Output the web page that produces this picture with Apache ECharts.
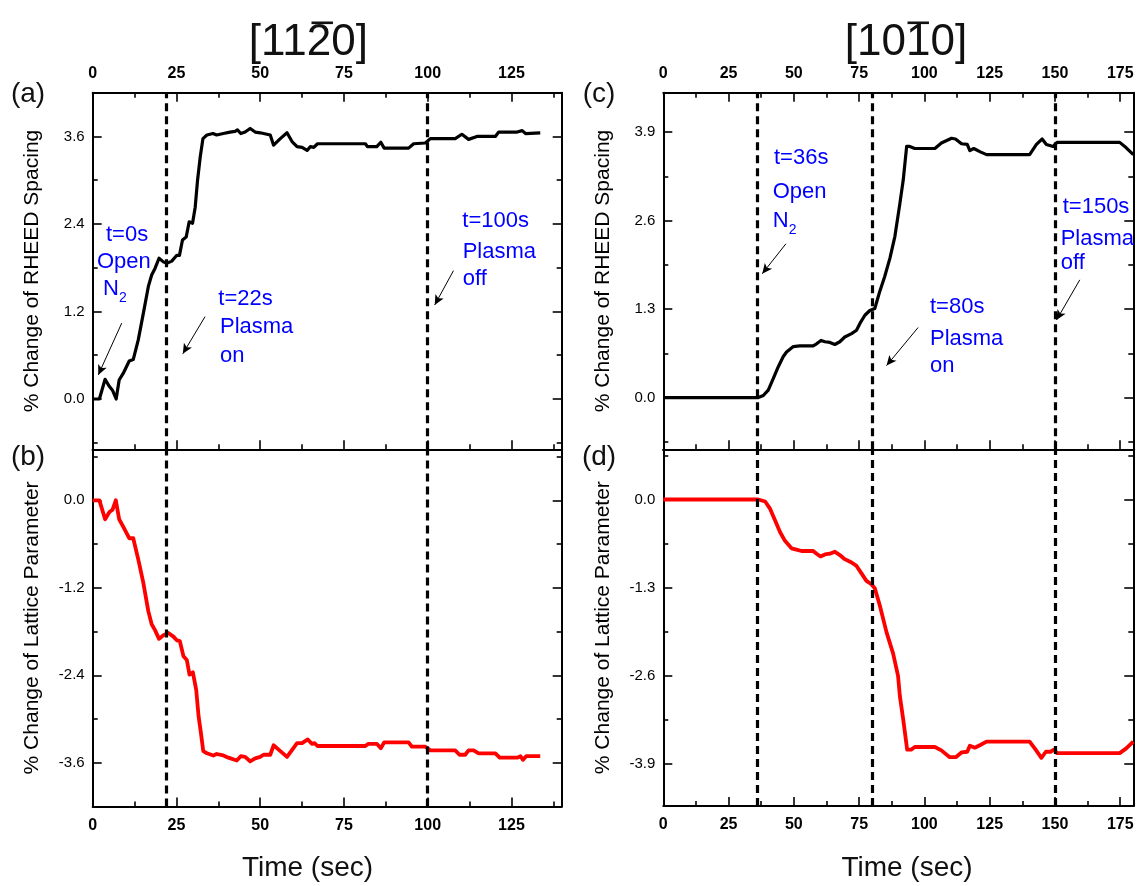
<!DOCTYPE html>
<html>
<head>
<meta charset="utf-8">
<script src="https://cdn.jsdelivr.net/npm/echarts@6/dist/echarts.min.js"></script>
<style>
  html, body { margin: 0; padding: 0; background: #fff; }
  #chart { width: 1138px; height: 886px; }
</style>
</head>
<body>
<div id="chart"></div>
<script>
// ---------------- data ----------------
// [11-20] azimuth: RHEED spacing change (a) and lattice parameter change (b)
const timeA = [0, 2, 3.7, 5, 5.9, 7, 7.9, 9.1, 10.9, 12.1, 13.6, 15.1, 16.6, 17.6, 18.6, 19.8, 21.1, 22.1, 23.6, 25.1,
  25.9, 26.8, 27.9, 28.8, 29.8, 30.6, 31.3, 32.1, 32.9, 34.1, 35.9, 37, 39, 41, 42.5, 43.2, 44.2, 45.5, 47, 48.5,
  50, 52, 53, 54, 56, 58, 59.5, 61, 62.5, 64, 65, 66, 67.1, 81.4, 82, 84.8, 86, 87, 94.3, 95.8,
  99.3, 100.8, 108.2, 110.2, 112.2, 114.7, 120.2, 121.2, 126.7, 128.2, 129.2, 133.6];
const rheedA = [0, 0, 0.27, 0.17, 0.12, 0, 0.26, 0.35, 0.52, 0.54, 0.81, 1.17, 1.54, 1.70, 1.79, 1.93, 1.88, 1.86, 1.89, 1.97,
  1.97, 2.18, 2.22, 2.43, 2.41, 2.63, 3.0, 3.32, 3.57, 3.62, 3.64, 3.62, 3.64, 3.66, 3.67, 3.69, 3.64, 3.66, 3.71, 3.66,
  3.65, 3.63, 3.62, 3.48, 3.57, 3.65, 3.53, 3.46, 3.45, 3.41, 3.46, 3.45, 3.50, 3.50, 3.46, 3.46, 3.52, 3.44, 3.44, 3.50,
  3.51, 3.57, 3.57, 3.63, 3.56, 3.60, 3.60, 3.66, 3.66, 3.68, 3.64, 3.65];

const timeB = [0, 2, 3.7, 5, 5.9, 6.9, 7.9, 9.1, 10.9, 12.1, 13.6, 15.1, 16.6, 17.6, 18.6, 19.8, 21.1, 22.6, 24.1, 25.1,
  26, 27.1, 28.1, 28.9, 29.9, 30.9, 31.6, 32.3, 33, 34.1, 36, 37, 39, 40.5, 43, 44.2, 45.5, 47, 48.5, 50,
  51, 53, 54, 55.5, 58, 61, 62.5, 64.2, 65.4, 66.2, 67.1, 81.4, 82.3, 84.8, 86, 87, 94.3, 95.3, 99.3, 100.8,
  108.2, 109.5, 111.2, 112.2, 113.7, 115.2, 120.2, 121.5, 126.7, 127.7, 128.4, 129.4, 133.6];
const latticeB = [0, 0, -0.26, -0.16, -0.13, 0, -0.26, -0.36, -0.52, -0.52, -0.81, -1.13, -1.52, -1.70, -1.78, -1.90, -1.85, -1.82, -1.87, -1.92,
  -1.93, -2.14, -2.19, -2.39, -2.36, -2.60, -2.96, -3.19, -3.44, -3.47, -3.50, -3.48, -3.50, -3.53, -3.57, -3.51, -3.52, -3.58, -3.54, -3.52,
  -3.49, -3.49, -3.36, -3.42, -3.52, -3.33, -3.33, -3.28, -3.34, -3.33, -3.37, -3.37, -3.34, -3.34, -3.40, -3.32, -3.32, -3.38, -3.38, -3.43,
  -3.43, -3.49, -3.49, -3.43, -3.43, -3.47, -3.47, -3.53, -3.53, -3.51, -3.56, -3.51, -3.51];

// [10-10] azimuth: RHEED spacing change (c) and lattice parameter change (d)
const timeC = [0, 36.4, 38.3, 40.2, 42.1, 44, 45.9, 47.2, 49.8, 52.3, 57.4, 58.7, 60.4, 61.9, 63.8, 65.7, 67.6, 69.5, 72.1, 74,
  75.6, 77.2, 79.1, 81, 82.9, 84.8, 86.8, 88.7, 90.6, 91.9, 93.2, 94.4, 96.3, 104, 106.5, 110.4, 111.9, 114.2, 116.4, 117.4,
  118.9, 121.4, 123.8, 140.3, 142.9, 145.1, 146.7, 149.3, 150.8, 174.8, 177.3, 180];
const rheedC = [0, 0, 0.03, 0.11, 0.28, 0.45, 0.60, 0.67, 0.75, 0.76, 0.76, 0.79, 0.84, 0.82, 0.81, 0.78, 0.82, 0.89, 0.94, 0.99,
  1.11, 1.21, 1.28, 1.31, 1.56, 1.78, 2.05, 2.37, 2.85, 3.20, 3.69, 3.69, 3.66, 3.66, 3.74, 3.81, 3.80, 3.73, 3.72, 3.63,
  3.66, 3.61, 3.57, 3.57, 3.72, 3.80, 3.72, 3.69, 3.75, 3.75, 3.67, 3.57];

const timeD = [0, 36.4, 39, 40.8, 42.7, 44.7, 46.6, 49.1, 51, 52.9, 57.4, 58.7, 60.2, 61.9, 63.8, 65.7, 67.6, 69.5, 72.1, 74,
  75.9, 77.8, 79.7, 81, 82.9, 85.5, 88, 89.9, 90.6, 91.9, 93.4, 94.9, 96.3, 104, 106.5, 109.7, 112, 114.2, 116.4, 117.4,
  119.3, 121.4, 123.8, 140.3, 142.6, 144.8, 146.5, 148.3, 149.6, 150.8, 174.8, 177.3, 180];
const latticeD = [0, 0, -0.03, -0.13, -0.30, -0.48, -0.61, -0.72, -0.74, -0.76, -0.76, -0.80, -0.84, -0.81, -0.80, -0.77, -0.82, -0.88, -0.93, -0.98,
  -1.09, -1.20, -1.25, -1.31, -1.56, -1.96, -2.27, -2.6, -2.9, -3.25, -3.69, -3.69, -3.65, -3.65, -3.70, -3.80, -3.80, -3.73, -3.72, -3.63,
  -3.66, -3.62, -3.57, -3.57, -3.69, -3.81, -3.72, -3.72, -3.69, -3.74, -3.74, -3.67, -3.57];

// event times (s): N2 open / plasma on / plasma off
const eventsLeft = [22, 100];
const eventsRight = [36, 80, 150];

// tick labels
const xTicksLeft = [0, 25, 50, 75, 100, 125];
const xTicksRight = [0, 25, 50, 75, 100, 125, 150, 175];
const yTicksA = [0, 1.2, 2.4, 3.6];
const yTicksB = [-3.6, -2.4, -1.2, 0];
const yTicksC = [0, 1.3, 2.6, 3.9];
const yTicksD = [-3.9, -2.6, -1.3, 0];

// annotation arrows: [tail t, tail value, head t, head value]
const arrowsA = [[8.66, 1.04, 1.67, 0.33], [33.55, 1.13, 26.9, 0.62], [107.7, 1.76, 102.1, 1.29]];
const arrowsC = [[46.96, 2.26, 37.9, 1.82], [97.6, 1.03, 85.5, 0.47], [159.5, 1.73, 150.6, 1.14]];

// ---------------- layout ----------------
const FONT = '"Liberation Sans", Arial, Helvetica, sans-serif';
const BLUE = '#0000ff';

const panels = [
  { left: 92.7, top: 92.7, width: 469, height: 356.6, xMax: 140, yMin: -0.69, yMax: 4.2,
    xTicks: xTicksLeft, yTicks: yTicksA, labelSide: 'top', topTicks: true, bottomTicks: true,
    yName: '% Change of RHEED Spacing', t: timeA, v: rheedA, color: '#000000', lw: 3.2,
    events: eventsLeft, arrows: arrowsA },
  { left: 92.7, top: 449.3, width: 469, height: 357.2, xMax: 140, yMin: -4.2, yMax: 0.7,
    xTicks: xTicksLeft, yTicks: yTicksB, labelSide: 'bottom', topTicks: false, bottomTicks: true,
    yName: '% Change of Lattice Parameter', t: timeB, v: latticeB, color: '#ff0000', lw: 3.8,
    events: eventsLeft, arrows: [] },
  { left: 663.3, top: 92.7, width: 470, height: 356.6, xMax: 180, yMin: -0.76, yMax: 4.48,
    xTicks: xTicksRight, yTicks: yTicksC, labelSide: 'top', topTicks: true, bottomTicks: true,
    yName: '% Change of RHEED Spacing', t: timeC, v: rheedC, color: '#000000', lw: 3.2,
    events: eventsRight, arrows: arrowsC },
  { left: 663.3, top: 449.3, width: 470, height: 356.7, xMax: 180, yMin: -4.52, yMax: 0.74,
    xTicks: xTicksRight, yTicks: yTicksD, labelSide: 'bottom', topTicks: false, bottomTicks: true,
    yName: '% Change of Lattice Parameter', t: timeD, v: latticeD, color: '#ff0000', lw: 3.8,
    events: eventsRight, arrows: [] }
];

// ticks halfway between labelled ticks, kept inside [min, max]
function halfSteps(ticks, min, max) {
  const step = ticks[1] - ticks[0];
  const out = [];
  for (let v = ticks[0] - step / 2; v >= min - 1e-9; v -= step) out.push(+v.toFixed(4));
  for (let i = 0; i < ticks.length; i++) {
    const v = ticks[i] + step / 2;
    if (v <= max + 1e-9) out.push(+v.toFixed(4));
  }
  return out.filter(v => v >= min - 1e-9 && v <= max + 1e-9);
}

function valueAxis(gi, min, max, pos, ticks, len, showLine, labels, kind) {
  const ax = {
    type: 'value', gridIndex: gi, min: min, max: max, position: pos,
    axisLine: { show: showLine, onZero: false, lineStyle: { color: '#000', width: 2 } },
    axisTick: { show: ticks.length > 0, inside: true, length: len, lineStyle: { color: '#000', width: 1.6 } },
    axisLabel: { show: false },
    splitLine: { show: false },
    minorTick: { show: false },
    axisPointer: { show: false }
  };
  if (ticks.length) ax.axisTick.customValues = ticks;
  if (labels) {
    if (kind === 'x') {
      ax.axisLabel = { show: true, customValues: labels, margin: 11, color: '#000',
        fontFamily: FONT, fontSize: 16, fontWeight: 'bold', formatter: v => String(v) };
    } else {
      ax.axisLabel = { show: true, customValues: labels, margin: 8, color: '#000',
        fontFamily: FONT, fontSize: 15, formatter: v => Number(v).toFixed(1) };
    }
  }
  return ax;
}

const grids = [], xAxes = [], yAxes = [], series = [];

panels.forEach((p, gi) => {
  grids.push({ left: p.left, top: p.top, width: p.width, height: p.height, show: false,
    containLabel: false, outerBoundsMode: 'none' });
  const xMinor = halfSteps(p.xTicks, 0, p.xMax);
  const yMinor = halfSteps(p.yTicks, p.yMin, p.yMax);

  const xi = xAxes.length;
  xAxes.push(valueAxis(gi, 0, p.xMax, 'bottom', p.bottomTicks ? p.xTicks : [], 9, true,
    p.labelSide === 'bottom' ? p.xTicks : null, 'x'));
  xAxes.push(valueAxis(gi, 0, p.xMax, 'bottom', p.bottomTicks ? xMinor : [], 5, false, null));
  xAxes.push(valueAxis(gi, 0, p.xMax, 'top', p.topTicks ? p.xTicks : [], 9, true,
    p.labelSide === 'top' ? p.xTicks : null, 'x'));
  xAxes.push(valueAxis(gi, 0, p.xMax, 'top', p.topTicks ? xMinor : [], 5, false, null));

  const yi = yAxes.length;
  const yMain = valueAxis(gi, p.yMin, p.yMax, 'left', p.yTicks, 9, true, p.yTicks, 'y');
  yMain.name = p.yName;
  yMain.nameLocation = 'middle';
  yMain.nameGap = 50;
  yMain.nameRotate = 90;
  yMain.nameTextStyle = { fontFamily: FONT, fontSize: 21, color: '#000' };
  yAxes.push(yMain);
  yAxes.push(valueAxis(gi, p.yMin, p.yMax, 'left', yMinor, 5, false, null));
  yAxes.push(valueAxis(gi, p.yMin, p.yMax, 'right', p.yTicks, 9, true, null));
  yAxes.push(valueAxis(gi, p.yMin, p.yMax, 'right', yMinor, 5, false, null));

  series.push({
    type: 'line', xAxisIndex: xi, yAxisIndex: yi,
    data: p.t.map((t, i) => [t, p.v[i]]),
    showSymbol: false, symbol: 'none', animation: false, silent: true, z: 3,
    lineStyle: { color: p.color, width: p.lw, join: 'round' },
    markLine: {
      silent: true, animation: false, symbol: ['none', 'none'], label: { show: false },
      lineStyle: { color: '#000', width: 3.2, type: [8, 5] },
      emphasis: { disabled: true },
      data: p.events.map(x => ({ xAxis: x }))
    }
  });

  if (p.arrows.length) {
    series.push({
      type: 'line', xAxisIndex: xi, yAxisIndex: yi, data: [], silent: true, animation: false, z: 4,
      markLine: {
        silent: true, animation: false, symbol: ['none', 'arrow'], symbolSize: [7, 10],
        label: { show: false }, emphasis: { disabled: true },
        lineStyle: { color: '#000', width: 1, type: 'solid' },
        data: p.arrows.map(a => [{ coord: [a[0], a[1]] }, { coord: [a[2], a[3]] }])
      }
    });
  }
});

// ---------------- text ----------------
const MID = 0.3465; // canvas 'middle' sits this many em above the alphabetic baseline
function txt(x, baseline, text, size, color, align, extra) {
  return Object.assign({
    type: 'text', x: x, y: baseline - MID * size, silent: true, z: 10,
    style: { text: text, fontFamily: FONT, fontSize: size, fill: color,
      align: align || 'left', verticalAlign: 'middle',
      textAlign: align || 'left', textVerticalAlign: 'middle' }
  }, extra || {});
}
function subN2(x, baseline) {
  return [txt(x, baseline, 'N', 22, BLUE), txt(x + 16, baseline + 6.5, '2', 14, BLUE)];
}
// Miller-index heading with an overbar above the third digit
function heading(cx, baseline, text) {
  const F = 44;
  const em = { '[': 0.278, ']': 0.278 };
  const w = ch => (em[ch] || 0.556) * F;
  let total = 0;
  for (const ch of text) total += w(ch);
  const x0 = cx - total / 2;
  const barX = x0 + w(text[0]) + w(text[1]) + w(text[2]);
  return [
    txt(x0, baseline, text, F, '#111'),
    { type: 'rect', silent: true, z: 10,
      shape: { x: barX + 1.5, y: baseline - 0.716 * F - 5, width: w(text[3]) - 3, height: 2.6 },
      style: { fill: '#111' } }
  ];
}

const graphic = [].concat(
  heading(310, 58, '[1120]'),
  heading(906, 58, '[1010]'),
  [
    txt(28, 104, '(a)', 28, '#111', 'center'),
    txt(28, 467, '(b)', 28, '#111', 'center'),
    txt(599, 104, '(c)', 28, '#111', 'center'),
    txt(599, 467, '(d)', 28, '#111', 'center'),
    txt(307.5, 878, 'Time (sec)', 28, '#111', 'center'),
    txt(907, 878, 'Time (sec)', 28, '#111', 'center'),

    txt(106, 242.7, 't=0s', 22, BLUE),
    txt(97, 270, 'Open', 22, BLUE)
  ],
  subN2(103, 296.7),
  [
    txt(218.3, 306.7, 't=22s', 22, BLUE),
    txt(220, 335, 'Plasma', 22, BLUE),
    txt(220, 363.3, 'on', 22, BLUE),
    txt(462.3, 228.3, 't=100s', 22, BLUE),
    txt(462.7, 260, 'Plasma', 22, BLUE),
    txt(462.7, 287, 'off', 22, BLUE),

    txt(774, 166, 't=36s', 22, BLUE),
    txt(772.7, 199.3, 'Open', 22, BLUE)
  ],
  subN2(772.7, 228.3),
  [
    txt(930, 315, 't=80s', 22, BLUE),
    txt(930, 346.7, 'Plasma', 22, BLUE),
    txt(930, 373.3, 'on', 22, BLUE),
    txt(1062.7, 215, 't=150s', 22, BLUE),
    txt(1060.7, 246.7, 'Plasma', 22, BLUE),
    txt(1060.7, 270.5, 'off', 22, BLUE)
  ]
);

const chart = echarts.init(document.getElementById('chart'), null, { renderer: 'canvas' });
chart.setOption({
  backgroundColor: '#ffffff',
  animation: false,
  grid: grids,
  xAxis: xAxes,
  yAxis: yAxes,
  series: series,
  graphic: { elements: graphic }
});
</script>
</body>
</html>
